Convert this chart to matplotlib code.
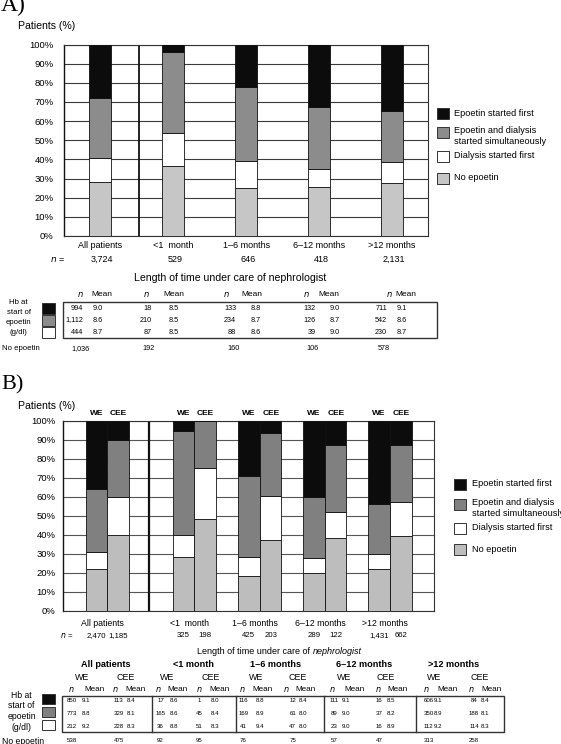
import matplotlib
matplotlib.use("Agg")
import matplotlib.pyplot as plt
from matplotlib.patches import Rectangle
from matplotlib.lines import Line2D

plt.rcParams['font.family'] = ['Liberation Sans', 'DejaVu Sans']

# ---------------- data ----------------
categories = ["All patients", "<1  month", "1\u20136 months", "6\u201312 months", ">12 months"]
legend_labels = ["Epoetin started first", "Epoetin and dialysis\nstarted simultaneously",
                 "Dialysis started first", "No epoetin"]

# Panel A: stacked percentages (bottom to top)
A_no_epoetin = [28, 36.5, 25, 25.5, 27.5]
A_dialysis_first = [12.5, 17.5, 14, 9.5, 11]
A_simultaneous = [31.5, 42, 39, 32.5, 27]
A_epoetin_first = [28, 4, 22, 32.5, 34.5]
A_n = ["3,724", "529", "646", "418", "2,131"]

A_hb_n = [["994", "1,112", "444"], ["18", "210", "87"], ["133", "234", "88"],
          ["132", "126", "39"], ["711", "542", "230"]]
A_hb_mean = [["9.0", "8.6", "8.7"], ["8.5", "8.5", "8.5"], ["8.8", "8.7", "8.6"],
             ["9.0", "8.7", "9.0"], ["9.1", "8.6", "8.7"]]
A_no_epoetin_n = ["1,036", "192", "160", "106", "578"]

# Panel B: WE and CEE stacked percentages
B_we_no_epoetin = [22, 28, 18, 20, 22]
B_we_dialysis_first = [9, 12, 10, 7.5, 8]
B_we_simultaneous = [33, 54.5, 43, 32.5, 26]
B_we_epoetin_first = [36, 5.5, 29, 40, 44]
B_cee_no_epoetin = [40, 48, 37, 38, 39]
B_cee_dialysis_first = [20, 27, 23.5, 14, 18]
B_cee_simultaneous = [30, 24.5, 33, 35, 30]
B_cee_epoetin_first = [10, 0.5, 6.5, 13, 13]
B_n = [["2,470", "1,185"], ["325", "198"], ["425", "203"], ["289", "122"], ["1,431", "662"]]

B_we_hb_n = [["850", "773", "212"], ["17", "165", "36"], ["116", "169", "41"],
             ["111", "89", "23"], ["606", "350", "112"]]
B_we_hb_mean = [["9.1", "8.8", "9.2"], ["8.6", "8.6", "8.8"], ["8.8", "8.9", "9.4"],
                ["9.1", "9.0", "9.0"], ["9.1", "8.9", "9.2"]]
B_cee_hb_n = [["113", "329", "228"], ["1", "45", "51"], ["12", "61", "47"],
              ["16", "37", "16"], ["84", "188", "114"]]
B_cee_hb_mean = [["8.4", "8.1", "8.3"], ["8.0", "8.4", "8.3"], ["8.4", "8.0", "8.0"],
                 ["8.5", "8.2", "8.9"], ["8.4", "8.1", "8.3"]]
B_no_epoetin_n = [["538", "475"], ["92", "95"], ["76", "75"], ["57", "47"], ["313", "258"]]

# ---------------- style ----------------
C_FIRST = "#0c0c0c"
C_SIM_A = "#8c8c8c"
C_SIM_B = "#808080"
C_DIAL = "#ffffff"
C_NONE_A = "#c6c6c6"
C_NONE_B = "#bdbdbd"

W, H = 561, 744
fig = plt.figure(figsize=(W / 100, H / 100), dpi=100)


def fx(x):
    return x / W


def fy(y):
    return 1 - y / H


def T(x, y, s, size=6.5, ha="center", va="center", **kw):
    fig.text(fx(x), fy(y), s, fontsize=size, ha=ha, va=va, **kw)


def rect(x0, y0, x1, y1, fc="none", ec="#222222", lw=0.8):
    fig.add_artist(Rectangle((fx(x0), fy(y1)), fx(x1) - fx(x0), fy(y0) - fy(y1),
                             transform=fig.transFigure, facecolor=fc, edgecolor=ec, lw=lw))


def vline(x, y0, y1, lw=0.8, color="#222222"):
    fig.add_artist(Line2D([fx(x), fx(x)], [fy(y0), fy(y1)], transform=fig.transFigure,
                          color=color, lw=lw))


def setup_axes(ax, pad):
    ax.set_ylim(0, 100)
    ax.set_yticks(range(0, 101, 10))
    ax.set_yticklabels([f"{v}%" for v in range(0, 101, 10)], fontsize=6.8)
    ax.tick_params(axis="y", length=0, pad=pad)
    ax.set_xticks([])
    ax.yaxis.grid(True, color="#3a3a3a", lw=0.8)
    ax.set_axisbelow(True)
    for s in ax.spines.values():
        s.set_color("#333333")
        s.set_linewidth(0.8)
    ax.spines["left"].set_color("#111111")
    ax.spines["left"].set_linewidth(1.0)


def stacked(ax, xs, width, segs, colors):
    bottom = [0] * len(xs)
    for vals, c in zip(segs, colors):
        ax.bar(xs, vals, width=width, bottom=bottom, color=c, edgecolor="#111111",
               linewidth=0.6, zorder=3)
        bottom = [b + v for b, v in zip(bottom, vals)]


# ================= Panel A =================
T(1, 11, "A)", size=17, ha="left", va="baseline", family=["Liberation Serif", "DejaVu Serif"])
T(18, 26, "Patients (%)", size=7.6, ha="left")

axA = fig.add_axes([fx(63.7), fy(236), fx(428.3) - fx(63.7), fy(44.5) - fy(236)])
xA = [0, 1, 2, 3, 4]
setup_axes(axA, 7.2)
axA.set_xlim(-0.5, 4.5)
stacked(axA, xA, 0.295,
        [A_no_epoetin, A_dialysis_first, A_simultaneous, A_epoetin_first],
        [C_NONE_A, C_DIAL, C_SIM_A, C_FIRST])
axA.axvline(0.535, color="#111111", lw=1.3, zorder=2)

# category labels & n
A_centers_px = [100.4, 173.5, 246.1, 319.1, 392.1]
for cx, c, n in zip(A_centers_px, categories, A_n):
    T(cx, 246, c, size=6.5)
    T(cx + 2, 259, n, size=6.5)
T(50, 259, r"$n$ =", size=6.5, ha="left")
T(230, 278, "Length of time under care of nephrologist", size=7.6)

# legend A
legA_y = [113, 132, 156, 178]
for yy, lab, c in zip(legA_y, legend_labels, [C_FIRST, C_SIM_A, C_DIAL, C_NONE_A]):
    rect(436.5, yy - 5.5, 448.5, yy + 5.5, fc=c, ec="#333333", lw=0.7)
    T(453.7, yy + (4 if "\n" in lab else 0), lab, size=6.6, ha="left", linespacing=1.15)

# table A
A_n_right = [83.4, 151.7, 236.1, 315.6, 387.1]
A_mean_c = [98, 173.5, 255.8, 334.2, 401.4]
A_nhead = [80.5, 146.7, 226.1, 305.9, 389.3]
A_meanhead = [102, 174.2, 252.2, 329.2, 406.1]
for i in range(5):
    T(A_nhead[i], 294.3, r"$n$", size=6)
    T(A_meanhead[i], 294.3, "Mean", size=6)
rect(63.3, 301.7, 436.5, 338.3, ec="#333333", lw=1.0)
rowsA = [308, 320, 332]
for i in range(5):
    for r in range(3):
        T(A_n_right[i], rowsA[r], A_hb_n[i][r], size=5.2, ha="right")
        T(A_mean_c[i], rowsA[r], A_hb_mean[i][r], size=5.2)
    T(A_n_right[i] - 3, 349, A_no_epoetin_n[i], size=5.2)
for yy, s in zip([303, 312.5, 322, 332], ["Hb at", "start of", "epoetin", "(g/dl)"]):
    T(18.6, yy, s, size=5.6)
for yy, c in zip(rowsA, [C_FIRST, C_SIM_A, C_DIAL]):
    rect(42, yy - 5.2, 54.5, yy + 5.8, fc=c, ec="#333333", lw=0.7)
T(1.5, 349, "No epoetin", size=5.6, ha="left")

# ================= Panel B =================
T(1, 389, "B)", size=16, ha="left", va="baseline", family=["Liberation Serif", "DejaVu Serif"])
T(18, 406, "Patients (%)", size=7.6, ha="left")

axB = fig.add_axes([fx(63.3), fy(610.5), fx(433.6) - fx(63.3), fy(420.5) - fy(610.5)])
xB = [0, 1.335, 2.335, 3.335, 4.335]
wB = 0.333
setup_axes(axB, 5.6)
axB.yaxis.grid(True, color="#555555", lw=0.8)
axB.set_xlim(-0.675, 5.005)
stacked(axB, [x - wB / 2 for x in xB], wB,
        [B_we_no_epoetin, B_we_dialysis_first, B_we_simultaneous, B_we_epoetin_first],
        [C_NONE_B, C_DIAL, C_SIM_B, C_FIRST])
stacked(axB, [x + wB / 2 for x in xB], wB,
        [B_cee_no_epoetin, B_cee_dialysis_first, B_cee_simultaneous, B_cee_epoetin_first],
        [C_NONE_B, C_DIAL, C_SIM_B, C_FIRST])
axB.axvline(0.643, color="#111111", lw=1.6, zorder=2)

B_centers_px = [107.3, 194.3, 259.7, 324.9, 390.0]
for cx, c, (nw, nc) in zip(B_centers_px, categories, B_n):
    T(cx - 11, 413.7, "WE", size=6, weight="bold")
    T(cx + 11, 413.7, "CEE", size=6, weight="bold")
    T(cx - 5, 623.3, c, size=6.3)
    T(cx - 11, 635.7, nw, size=5.6)
    T(cx + 11, 635.7, nc, size=5.6)
T(60, 635.7, r"$n$ =", size=5.6, ha="left")
T(310, 651, "Length of time under care of", size=6.5, ha="right")
T(312.5, 651, "nephrologist", size=6.5, ha="left", style="italic")

# legend B
legB_y = [484, 504, 528, 549]
for yy, lab, c in zip(legB_y, legend_labels, [C_FIRST, C_SIM_B, C_DIAL, C_NONE_B]):
    rect(454.4, yy - 5.5, 466.4, yy + 5.5, fc=c, ec="#333333", lw=0.7)
    T(471.6, yy + (4 if "\n" in lab else 0), lab, size=6.6, ha="left", linespacing=1.15)

# table B
B_grp_head = [105.5, 193.2, 275.5, 364.2, 453.7]
B_we_head = [82.3, 166.7, 256.5, 344.2, 434.0]
B_cee_head = [125.9, 210.7, 298.0, 385.7, 480.1]
B_nh = [71.6, 115.6, 157.8, 199.3, 242.2, 286.2, 332.7, 378.2, 425.8, 471.2]
B_mh = [94.1, 136.0, 177.8, 220.0, 262.3, 305.9, 354.2, 397.1, 447.9, 492.0]
B_nv = [71.6, 118.8, 160.6, 199.3, 243.3, 292.7, 334.2, 379.2, 428.6, 474.0]
B_mv = [85.9, 131.3, 173.5, 215.0, 260.1, 303.4, 346.0, 391.0, 438.3, 484.8]
for i in range(5):
    T(B_grp_head[i], 664.3, categories[i].replace("  ", " "), size=6.6, weight="bold")
    T(B_we_head[i], 677.3, "WE", size=6.4)
    T(B_cee_head[i], 677.3, "CEE", size=6.4)
for j in range(10):
    T(B_nh[j], 689.3, r"$n$", size=5.9)
    T(B_mh[j], 689.3, "Mean", size=5.9)
rect(61.9, 696, 503.8, 732, ec="#333333", lw=1.0)
for xd in [152.1, 236.1, 323.8, 415.7]:
    vline(xd, 696, 732, lw=1.0, color="#333333")
rowsB = [701, 713.7, 727]
for i in range(5):
    for r in range(3):
        T(B_nv[2 * i], rowsB[r], B_we_hb_n[i][r], size=4.4)
        T(B_mv[2 * i], rowsB[r], B_we_hb_mean[i][r], size=4.4)
        T(B_nv[2 * i + 1], rowsB[r], B_cee_hb_n[i][r], size=4.4)
        T(B_mv[2 * i + 1], rowsB[r], B_cee_hb_mean[i][r], size=4.4)
    T(B_nv[2 * i], 741, B_no_epoetin_n[i][0], size=4.4)
    T(B_nv[2 * i + 1], 741, B_no_epoetin_n[i][1], size=4.4)
for yy, s in zip([695, 705.7, 716.7, 727.7], ["Hb at", "start of", "epoetin", "(g/dl)"]):
    T(21.5, yy, s, size=6.2)
for (y0, y1), c in zip([(694, 704), (707, 717), (719.5, 730)], [C_FIRST, C_SIM_B, C_DIAL]):
    rect(42, y0, 54.5, y1, fc=c, ec="#333333", lw=0.7)
T(1.5, 741, "No epoetin", size=6.2, ha="left")

fig.savefig("out.png", dpi=100)
